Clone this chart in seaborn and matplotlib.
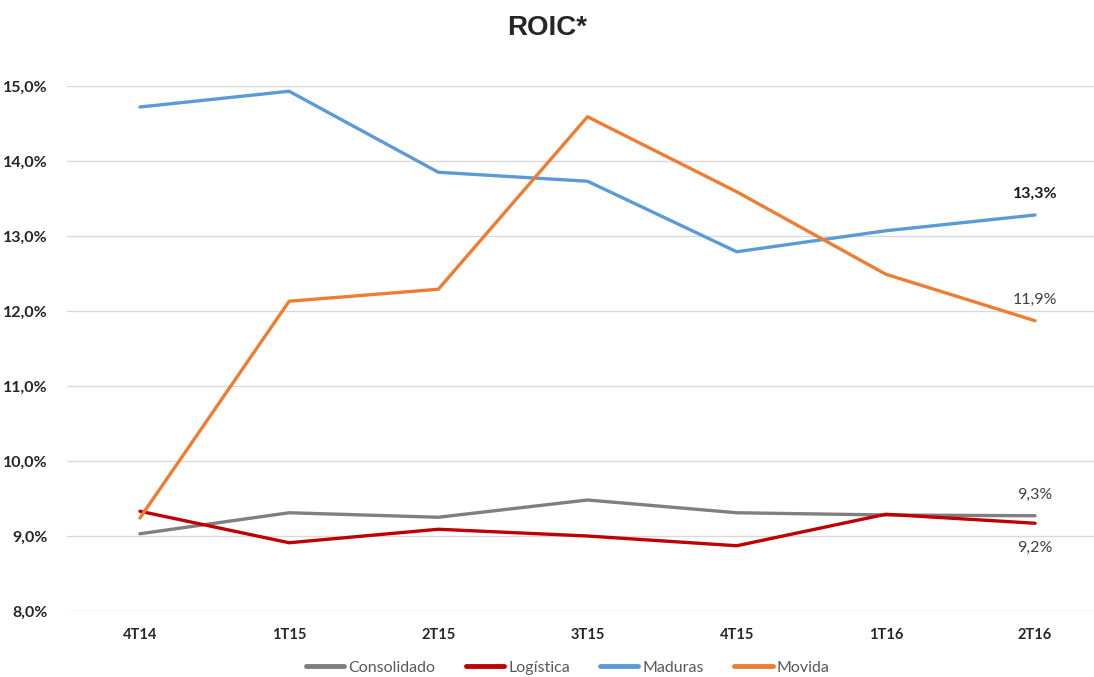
import pandas as pd
import matplotlib
matplotlib.use("Agg")
import matplotlib.pyplot as plt
import seaborn as sns

# trimestres y valores (ROIC en %)
trimestres = ["4T14", "1T15", "2T15", "3T15", "4T15", "1T16", "2T16"]
consolidado = [9.03, 9.31, 9.25, 9.48, 9.31, 9.28, 9.27]
logistica = [9.33, 8.91, 9.09, 9.00, 8.87, 9.29, 9.17]
maduras = [14.72, 14.93, 13.85, 13.73, 12.79, 13.07, 13.28]
movida = [9.24, 12.13, 12.29, 14.59, 13.59, 12.49, 11.87]

series = {"Consolidado": consolidado, "Logística": logistica,
          "Maduras": maduras, "Movida": movida}
colores = {"Consolidado": "#7f7f7f", "Logística": "#c00000",
           "Maduras": "#5b9bd5", "Movida": "#ed7d31"}

filas = []
for nombre, vals in series.items():
    for i, v in enumerate(vals):
        filas.append({"serie": nombre, "idx": i, "roic": v})
df = pd.DataFrame(filas)

sns.set_style("white")
plt.rcParams["font.family"] = ["Lato", "DejaVu Sans"]

fig = plt.figure(figsize=(10.94, 6.77), dpi=100)
ax = fig.add_axes([67 / 1094, 66 / 677, 1027 / 1094, 525 / 677])

sns.lineplot(data=df, x="idx", y="roic", hue="serie", palette=colores,
             linewidth=2.4, ax=ax, legend=False)

ax.set_xlim(-0.489, 6.395)
ax.set_ylim(8, 15)
ax.set_yticks(range(8, 16))
ax.set_yticklabels([f"{t},0%" for t in range(8, 16)], fontsize=11.5, fontweight="bold")
ax.set_xticks(range(len(trimestres)))
ax.set_xticklabels(trimestres, fontsize=10.5, fontweight="bold")
ax.tick_params(axis="y", length=0, pad=14)
ax.tick_params(axis="x", length=0, pad=12)
ax.yaxis.grid(True, color="#d9d9d9", linewidth=1)
ax.set_axisbelow(True)
for s in ax.spines.values():
    s.set_visible(False)
ax.set_xlabel("")
ax.set_ylabel("")

def fmt(v):
    return f"{v:.1f}%".replace(".", ",")

# etiquetas del ultimo trimestre
last = len(trimestres) - 1
ax.annotate(fmt(maduras[-1]), (last, maduras[-1]), xytext=(0, 10), textcoords="offset points",
            ha="center", va="bottom", fontsize=11.5, fontweight="bold", color="#1a1a1a")
ax.annotate(fmt(movida[-1]), (last, movida[-1]), xytext=(0, 10), textcoords="offset points",
            ha="center", va="bottom", fontsize=11.5, color="#404040")
ax.annotate(fmt(consolidado[-1]), (last, consolidado[-1]), xytext=(0, 10), textcoords="offset points",
            ha="center", va="bottom", fontsize=11.5, color="#404040")
ax.annotate(fmt(logistica[-1]), (last, logistica[-1]), xytext=(0, -13), textcoords="offset points",
            ha="center", va="top", fontsize=11.5, color="#404040")

fig.suptitle("ROIC*", x=0.5, y=0.978, fontsize=20, fontweight="bold",
             family=["Liberation Sans", "DejaVu Sans"])

handles = [plt.Line2D([], [], color=colores[n], linewidth=3.5) for n in series]
leg = fig.legend(handles, list(series.keys()), loc="center", ncol=4,
                 bbox_to_anchor=(0.519, 0.014), frameon=False, fontsize=11.5,
                 handlelength=2.4, handletextpad=0.25, columnspacing=1.9)
for t in leg.get_texts():
    t.set_color("#595959")

fig.savefig("out.png", dpi=100)
